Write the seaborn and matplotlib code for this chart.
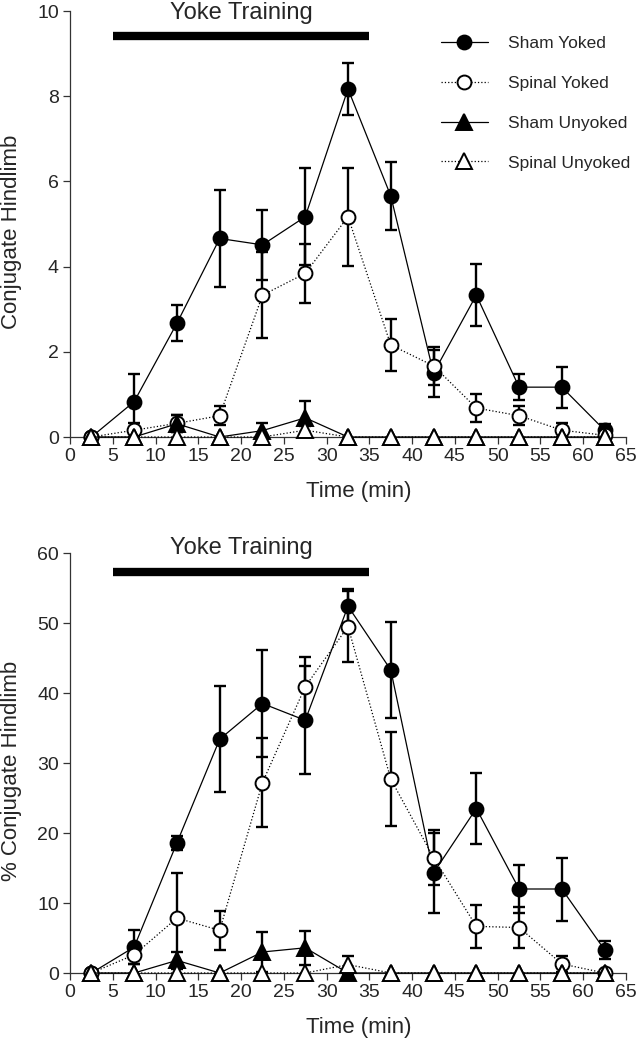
import numpy as np
import pandas as pd
import matplotlib
matplotlib.use("Agg")
import matplotlib.pyplot as plt
import seaborn as sns

# ---------------- data ----------------
time = [2.5, 7.5, 12.5, 17.5, 22.5, 27.5, 32.5, 37.5, 42.5, 47.5, 52.5, 57.5, 62.5]
groups = ["Sham Yoked", "Spinal Yoked", "Sham Unyoked", "Spinal Unyoked"]

# Top panel: Conjugate Hindlimb (count)
count_sham_yoked = [0, 0.83, 2.67, 4.66, 4.51, 5.17, 8.17, 5.66, 1.50, 3.33, 1.17, 1.17, 0.16]
count_sham_yoked_err = [0, 0.65, 0.42, 1.14, 0.83, 1.14, 0.60, 0.80, 0.55, 0.72, 0.30, 0.48, 0.15]
count_spinal_yoked = [0, 0.16, 0.32, 0.50, 3.33, 3.84, 5.17, 2.16, 1.67, 0.68, 0.50, 0.16, 0.04]
count_spinal_yoked_err = [0, 0.17, 0.20, 0.22, 1.01, 0.70, 1.15, 0.60, 0.45, 0.32, 0.23, 0.17, 0.05]
count_sham_unyoked = [0, 0, 0.31, 0, 0.15, 0.45, 0, 0, 0, 0, 0, 0, 0]
count_sham_unyoked_err = [0, 0, 0.20, 0, 0.17, 0.40, 0, 0, 0, 0, 0, 0, 0]
count_spinal_unyoked = [0, 0, 0, 0, 0, 0.16, 0, 0, 0, 0, 0, 0, 0]
count_spinal_unyoked_err = [0, 0, 0, 0, 0, 0.10, 0, 0, 0, 0, 0, 0, 0]

# Bottom panel: % Conjugate Hindlimb
pct_sham_yoked = [0, 3.7, 18.6, 33.4, 38.5, 36.1, 52.4, 43.3, 14.3, 23.5, 12.0, 12.0, 3.3]
pct_sham_yoked_err = [0, 2.4, 1.0, 7.6, 7.7, 7.7, 2.4, 6.8, 5.7, 5.05, 3.4, 4.5, 1.3]
pct_spinal_yoked = [0, 2.6, 7.85, 6.1, 27.2, 40.9, 49.5, 27.7, 16.5, 6.66, 6.5, 1.3, 0]
pct_spinal_yoked_err = [0, 1.3, 6.5, 2.8, 6.4, 4.3, 5.1, 6.7, 3.95, 3.1, 2.9, 1.2, 0]
pct_sham_unyoked = [0, 0, 1.8, 0, 3.0, 3.6, 0, 0, 0, 0, 0, 0, 0]
pct_sham_unyoked_err = [0, 0, 1.2, 0, 2.9, 2.4, 0, 0, 0, 0, 0, 0, 0]
pct_spinal_unyoked = [0, 0, 0, 0, 0, 0, 1.2, 0, 0, 0, 0, 0, 0]
pct_spinal_unyoked_err = [0, 0, 0, 0, 0, 0, 1.3, 0, 0, 0, 0, 0, 0]

yoke_start, yoke_end = 5, 35
x_ticks = list(range(0, 70, 5))
top_yticks = [0, 2, 4, 6, 8, 10]
bot_yticks = [0, 10, 20, 30, 40, 50, 60]


def long_df(vals, errs):
    rows = []
    for g, v, e in zip(groups, vals, errs):
        for t, vv, ee in zip(time, v, e):
            rows.append({"time": t, "value": vv, "err": ee, "group": g})
    return pd.DataFrame(rows)


df_top = long_df(
    [count_sham_yoked, count_spinal_yoked, count_sham_unyoked, count_spinal_unyoked],
    [count_sham_yoked_err, count_spinal_yoked_err, count_sham_unyoked_err, count_spinal_unyoked_err],
)
df_bot = long_df(
    [pct_sham_yoked, pct_spinal_yoked, pct_sham_unyoked, pct_spinal_unyoked],
    [pct_sham_yoked_err, pct_spinal_yoked_err, pct_sham_unyoked_err, pct_spinal_unyoked_err],
)

# ---------------- style ----------------
sns.set_style("ticks")
plt.rcParams["font.family"] = ["Liberation Sans", "DejaVu Sans"]

styles = {
    "Sham Yoked": dict(marker="o", mfc="black", ls="-"),
    "Spinal Yoked": dict(marker="o", mfc="white", ls=":"),
    "Sham Unyoked": dict(marker="^", mfc="black", ls="-"),
    "Spinal Unyoked": dict(marker="^", mfc="white", ls=":"),
}

fig = plt.figure(figsize=(6.36, 10.5), dpi=100)
L, R = 70 / 636, 626 / 636
ax_top = fig.add_axes([L, 1 - 437 / 1050, R - L, (437 - 11) / 1050])
ax_bot = fig.add_axes([L, 1 - 973 / 1050, R - L, (973 - 553) / 1050])


def draw(ax, df, ylim, yticks, ylabel, bar_y, text_y, h_px):
    for g in groups:
        sub = df[df["group"] == g]
        st = styles[g]
        e = sub[sub["err"] > 0]
        if len(e):
            ax.errorbar(e["time"], e["value"], yerr=e["err"], fmt="none",
                        ecolor="black", elinewidth=1.7, capsize=4.4, capthick=1.7,
                        zorder=2, clip_on=False)
        sns.lineplot(data=sub, x="time", y="value", ax=ax, color="black",
                     marker=st["marker"], markersize=10 if st["marker"] == "o" else 11,
                     markerfacecolor=st["mfc"], markeredgecolor="black",
                     markeredgewidth=1.4, linestyle=st["ls"], linewidth=0.9,
                     label=g, legend=False, errorbar=None, clip_on=False, zorder=3)
    ax.set_xlim(0, 65)
    ax.set_ylim(*ylim)
    ax.set_xticks(x_ticks)
    ax.set_yticks(yticks)
    ax.set_xlabel("Time (min)", fontsize=16)
    ax.xaxis.label.set_va("center")
    ax.xaxis.set_label_coords(0.52, -55 / h_px)
    ax.set_ylabel(ylabel, fontsize=16)
    ax.yaxis.label.set_va("center")
    ax.yaxis.set_label_coords(-58 / 556, 0.482)
    ax.tick_params(axis="both", labelsize=14, length=5, width=0.9,
                   color="#333333", direction="out", pad=3)
    sns.despine(ax=ax)
    for s in ("left", "bottom"):
        ax.spines[s].set_linewidth(0.9)
        ax.spines[s].set_color("#333333")
    # Yoke training bar
    ax.plot([yoke_start, yoke_end], [bar_y, bar_y], color="black", lw=6,
            solid_capstyle="butt", clip_on=False)
    ax.text((yoke_start + yoke_end) / 2, text_y, "Yoke Training", fontsize=17,
            ha="center", va="center", clip_on=False)


draw(ax_top, df_top, (0, 10), top_yticks, "Conjugate Hindlimb", 9.41, 9.96, 426)
draw(ax_bot, df_bot, (0, 60), bot_yticks, "% Conjugate Hindlimb", 57.3, 60.7, 420)

handles, labels = ax_top.get_legend_handles_labels()
ax_top.legend(handles, labels, loc="upper left", bbox_to_anchor=(441 / 636, 1 - 36 / 1050),
              bbox_transform=fig.transFigure, frameon=False, fontsize=12.5,
              handlelength=2.7, handletextpad=1.15, labelspacing=1.42,
              borderpad=0, borderaxespad=0)

fig.savefig("out.png", dpi=100)
